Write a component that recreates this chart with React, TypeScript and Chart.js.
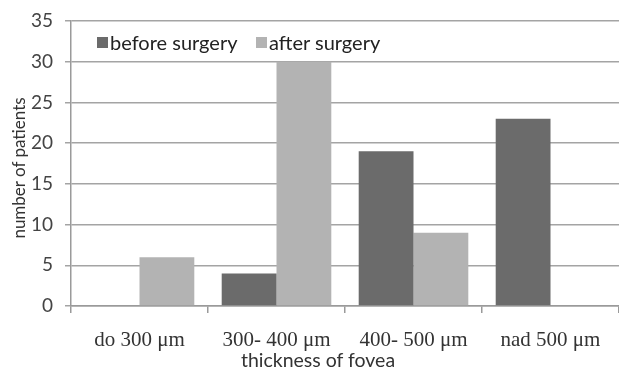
import React, { useEffect, useRef } from "react";
import { Chart, registerables } from "chart.js";

Chart.register(...registerables);

const categories = ["do 300 μm", "300- 400 μm", "400- 500 μm", "nad 500 μm"];
const beforeSurgery = [0, 4, 19, 23];
const afterSurgery = [6, 30, 9, 0];
const seriesNames = ["before surgery", "after surgery"];
const seriesColors = ["#6b6b6b", "#b3b3b3"];
const xTitle = "thickness of fovea";
const yTitle = "number of patients";

export default function App() {
  const ref = useRef<HTMLCanvasElement>(null);
  useEffect(() => {
    document.body.style.margin = "0";
    const chart = new Chart(ref.current!, {
      type: "bar",
      data: {
        labels: categories,
        datasets: [
          { label: seriesNames[0], data: beforeSurgery, backgroundColor: seriesColors[0], barPercentage: 1, categoryPercentage: 0.8 },
          { label: seriesNames[1], data: afterSurgery, backgroundColor: seriesColors[1], barPercentage: 1, categoryPercentage: 0.8 },
        ],
      },
      options: {
        animation: false,
        responsive: false,
        maintainAspectRatio: false,
        layout: { padding: { top: 21, left: 10, right: 0, bottom: 3 } },
        plugins: { legend: { display: false }, tooltip: { enabled: false } },
        scales: {
          x: {
            offset: true,
            grid: { offset: true, drawOnChartArea: false, drawTicks: true, tickLength: 7, color: "#9a9a9a", lineWidth: 1.5 },
            border: { display: true, color: "#9a9a9a", width: 1.5 },
            ticks: { color: "#333", font: { family: "Liberation Serif", size: 21 }, padding: 15, maxRotation: 0 },
            afterFit: (s: any) => { s.height = 63; s.paddingLeft = 0; s.paddingRight = 0; },
          },
          y: {
            min: 0,
            max: 35,
            ticks: { stepSize: 5, color: "#444", font: { family: "Lato", size: 19 }, padding: 12 },
            grid: { color: "#a4a4a4", lineWidth: 1.5, tickLength: 6 },
            border: { display: true, color: "#9a9a9a", width: 1.5 },
            afterFit: (s: any) => { s.width = 61; s.paddingTop = 0; s.paddingBottom = 0; },
          },
        },
      },
    });
    return () => chart.destroy();
  }, []);

  const legendX = [97, 256];
  return (
    <div style={{ position: "relative", width: 619, height: 372 }}>
      <canvas ref={ref} width={619} height={372} />
      {seriesNames.map((n, i) => (
        <div
          key={n}
          style={{
            position: "absolute",
            left: legendX[i],
            top: 29,
            height: 26,
            display: "flex",
            alignItems: "center",
            fontFamily: "Lato",
            fontSize: 20,
            color: "#222",
            whiteSpace: "nowrap",
          }}
        >
          <span style={{ display: "inline-block", width: 11, height: 11, background: seriesColors[i], marginRight: 2 }} />
          {n}
        </div>
      ))}
      <div
        style={{
          position: "absolute",
          left: 218,
          width: 200,
          top: 349,
          textAlign: "center",
          fontFamily: "Lato",
          fontSize: 19.5,
          lineHeight: "22px",
          color: "#333",
        }}
      >
        {xTitle}
      </div>
      <div
        style={{
          position: "absolute",
          left: 19 - 100,
          top: 168 - 11,
          width: 200,
          height: 22,
          lineHeight: "22px",
          textAlign: "center",
          transform: "rotate(-90deg)",
          fontFamily: "Lato",
          fontSize: 17,
          color: "#333",
          whiteSpace: "nowrap",
        }}
      >
        {yTitle}
      </div>
    </div>
  );
}
